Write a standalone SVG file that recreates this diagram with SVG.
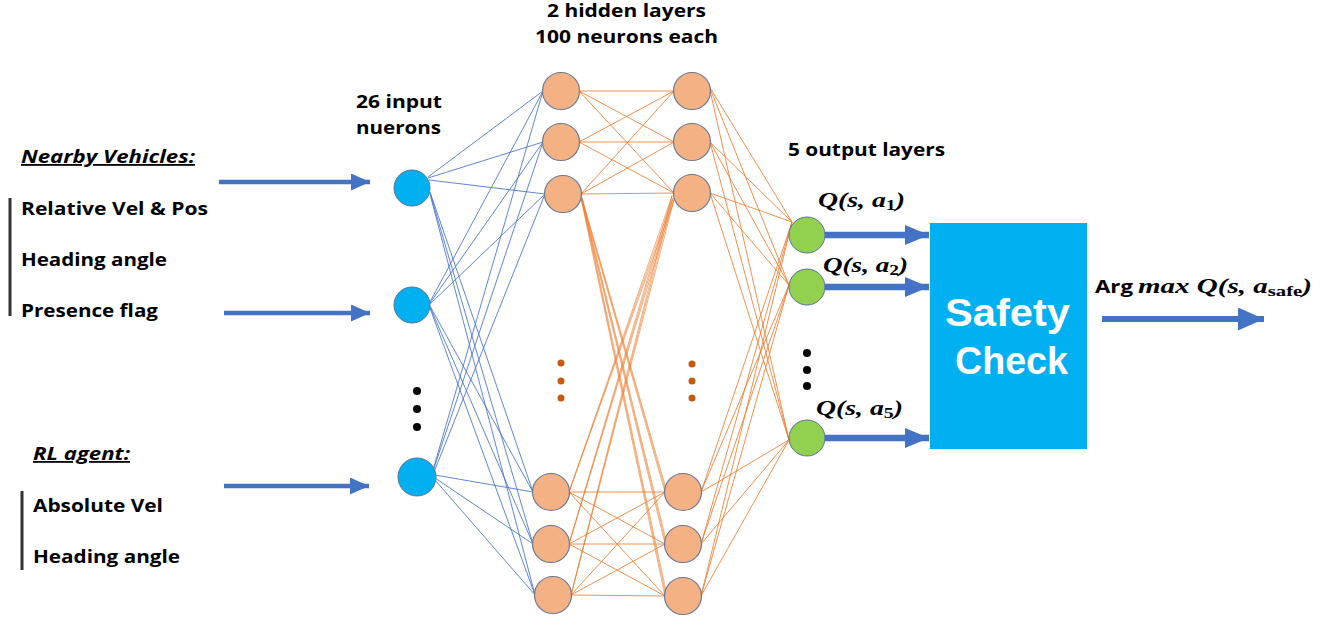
<svg xmlns="http://www.w3.org/2000/svg" width="1342" height="621" viewBox="0 0 1342 621">
<defs>
<style>
.t{font-family:"Open Sans","Liberation Sans",sans-serif;font-weight:700;font-size:18px;fill:#000}
.h{font-style:italic;text-decoration:underline}
.m{font-family:"Liberation Serif","DejaVu Serif",serif;font-weight:700;font-style:italic;font-size:21px;fill:#000}
.sub{font-style:normal;font-size:15px}
.in{fill:#00B0F0;stroke:#5B739B;stroke-width:1}
.hid{fill:#F4B183;stroke:#6A7894;stroke-width:1.2}
.out{fill:#92D050;stroke:#5B739B;stroke-width:1}
.cb{stroke:#4472C4;stroke-width:1;fill:none;opacity:0.85}
.co{stroke:#ED7D31;stroke-width:1;fill:none;opacity:0.85}
.cf{stroke:#ED7D31;stroke-width:1;fill:none;opacity:0.6}
.arr{stroke:#4472C4;fill:none}
.bar{stroke:#333;stroke-width:3}
.big{font-family:"Liberation Sans","Open Sans",sans-serif;font-weight:700;font-size:39px;fill:#fff}
</style>
<marker id="ah1" markerUnits="userSpaceOnUse" markerWidth="19" markerHeight="17" refX="19" refY="8.5" orient="auto"><path d="M0 0L19 8.5L0 17z" fill="#4472C4"/></marker>
<marker id="ah2" markerUnits="userSpaceOnUse" markerWidth="24" markerHeight="20" refX="24" refY="10" orient="auto"><path d="M0 0L24 10L0 20z" fill="#4472C4"/></marker>
<marker id="ah3" markerUnits="userSpaceOnUse" markerWidth="26" markerHeight="23" refX="26" refY="11.5" orient="auto"><path d="M0 0L26 11.5L0 23z" fill="#4472C4"/></marker>
</defs>
<rect width="1342" height="621" fill="#fff"/>

<g id="connectors">
<path class="cb" d="M428 177L543 91M428 178L543 142M429 180L545 194M430 192L533 492M430 193L533 544M430 194L535 595"/>
<path class="cb" d="M430 302L543 91M430 303L543 142M430 304L545 194M430 306L533 492M430 307L533 544M430 308L535 595"/>
<path class="cb" d="M433 470L543 91M433 471L543 142M434 472L545 194M435 475L533 492M435 478L533 544M435 480L535 595"/>
<path class="co" d="M579 91L674 91M579 91L674 142M579 91L674 193"/>
<path class="co" d="M579 142L674 91M579 142L674 142M579 142L674 193"/>
<path class="co" d="M581 194L674 91M581 194L674 142M581 194L674 193"/>
<path class="cf" d="M580 194L665 492M580 194L665 544M580 194L665 596M581 196L666 492M581 196L666 544M581 196L666 596M582 198L667 492M582 198L667 544M582 198L667 596"/>
<path class="co" d="M569 492L665 492M569 492L665 544M569 492L665 596"/>
<path class="co" d="M569 544L665 492M569 544L665 544M569 544L665 596"/>
<path class="co" d="M571 595L665 492M571 595L665 544M571 595L665 596"/>
<path class="cf" d="M569 492L672 196M569 492L673 198M569 492L674 200M569 544L672 196M569 544L673 198M569 544L674 200M571 595L672 196M571 595L673 198M571 595L674 200"/>
<path class="co" d="M709 86L792 222M709 86L789 285M709 86L789 440"/>
<path class="co" d="M710 142L792 222M710 142L789 285M710 142L789 440"/>
<path class="co" d="M710 193L792 222M710 193L789 285M710 193L789 440"/>
<path class="co" d="M701 492L792 222M701 492L789 285M701 492L789 440"/>
<path class="co" d="M701 544L792 222M701 544L789 285M701 544L789 440"/>
<path class="co" d="M701 596L792 222M701 596L789 285M701 596L789 440"/>
<line class="arr" x1="219" y1="182" x2="370" y2="182" stroke-width="4.5" marker-end="url(#ah1)"/>
<line class="arr" x1="224" y1="313" x2="370" y2="313" stroke-width="4.5" marker-end="url(#ah1)"/>
<line class="arr" x1="224" y1="486" x2="369" y2="486" stroke-width="4.5" marker-end="url(#ah1)"/>
<line class="arr" x1="824" y1="235" x2="929" y2="235" stroke-width="6.5" marker-end="url(#ah2)"/>
<line class="arr" x1="824" y1="287" x2="929" y2="287" stroke-width="6.5" marker-end="url(#ah2)"/>
<line class="arr" x1="824" y1="438" x2="929" y2="438" stroke-width="6.5" marker-end="url(#ah2)"/>
<line class="arr" x1="1102" y1="319" x2="1264" y2="319" stroke-width="6" marker-end="url(#ah3)"/>
</g>

<g id="input-labels">
<text class="t h" x="21" y="163" textLength="174" lengthAdjust="spacingAndGlyphs">Nearby Vehicles:</text>
<line class="bar" x1="10" y1="198" x2="10" y2="316"/>
<text class="t" x="21" y="215" textLength="187" lengthAdjust="spacingAndGlyphs">Relative Vel &amp; Pos</text>
<text class="t" x="21" y="266" textLength="146" lengthAdjust="spacingAndGlyphs">Heading angle</text>
<text class="t" x="21" y="317" textLength="137" lengthAdjust="spacingAndGlyphs">Presence flag</text>
<text class="t h" x="33" y="460" textLength="97" lengthAdjust="spacingAndGlyphs">RL agent:</text>
<line class="bar" x1="22" y1="491" x2="22" y2="570"/>
<text class="t" x="33" y="512" textLength="130" lengthAdjust="spacingAndGlyphs">Absolute Vel</text>
<text class="t" x="33" y="563" textLength="147" lengthAdjust="spacingAndGlyphs">Heading angle</text>
</g>

<g id="titles">
<text class="t" x="356" y="108" textLength="86" lengthAdjust="spacingAndGlyphs">26 input</text>
<text class="t" x="356" y="134" textLength="85" lengthAdjust="spacingAndGlyphs">nuerons</text>
<text class="t" x="547" y="17" textLength="159" lengthAdjust="spacingAndGlyphs">2 hidden layers</text>
<text class="t" x="535" y="43" textLength="183" lengthAdjust="spacingAndGlyphs">100 neurons each</text>
<text class="t" x="788" y="156" textLength="157" lengthAdjust="spacingAndGlyphs">5 output layers</text>
</g>

<g id="input-layer">
<circle id="in1" class="in" cx="412" cy="188" r="18"/>
<circle id="in2" class="in" cx="412" cy="305" r="18"/>
<circle id="in3" class="in" cx="417" cy="477" r="19"/>
<circle cx="417" cy="391" r="4" fill="#000"/>
<circle cx="417" cy="409" r="4" fill="#000"/>
<circle cx="417" cy="427" r="4" fill="#000"/>
</g>

<g id="hidden-layer-1">
<circle class="hid" cx="561" cy="91" r="18.5"/>
<circle class="hid" cx="561" cy="142" r="18.5"/>
<circle class="hid" cx="563" cy="194" r="18.5"/>
<circle class="hid" cx="551" cy="492" r="18.5"/>
<circle class="hid" cx="551" cy="544" r="18.5"/>
<circle class="hid" cx="553" cy="595" r="18.5"/>
<circle cx="561" cy="363" r="3.5" fill="#C55A11"/>
<circle cx="561" cy="381" r="3.5" fill="#C55A11"/>
<circle cx="561" cy="398" r="3.5" fill="#C55A11"/>
</g>

<g id="hidden-layer-2">
<circle class="hid" cx="692" cy="91" r="18.5"/>
<circle class="hid" cx="692" cy="142" r="18.5"/>
<circle class="hid" cx="692" cy="193" r="18.5"/>
<circle class="hid" cx="683" cy="492" r="18.5"/>
<circle class="hid" cx="683" cy="544" r="18.5"/>
<circle class="hid" cx="683" cy="596" r="18.5"/>
<circle cx="692" cy="364" r="3.5" fill="#C55A11"/>
<circle cx="692" cy="381" r="3.5" fill="#C55A11"/>
<circle cx="692" cy="398" r="3.5" fill="#C55A11"/>
</g>

<g id="output-layer">
<circle class="out" cx="807" cy="235" r="18"/>
<circle class="out" cx="807" cy="287" r="18"/>
<circle class="out" cx="807" cy="438" r="18"/>
<circle cx="807" cy="353" r="4" fill="#000"/>
<circle cx="807" cy="370" r="4" fill="#000"/>
<circle cx="807" cy="386" r="4" fill="#000"/>
<text class="m" x="818" y="207" textLength="87" lengthAdjust="spacingAndGlyphs">Q(s, a<tspan class="sub" dy="3">1</tspan><tspan dy="-3">)</tspan></text>
<text class="m" x="823" y="272" textLength="85" lengthAdjust="spacingAndGlyphs">Q(s, a<tspan class="sub" dy="3">2</tspan><tspan dy="-3">)</tspan></text>
<text class="m" x="816" y="415" textLength="87" lengthAdjust="spacingAndGlyphs">Q(s, a<tspan class="sub" dy="3">5</tspan><tspan dy="-3">)</tspan></text>
</g>

<g id="safety-check">
<rect x="930" y="223" width="157" height="226" fill="#00B0F0"/>
<text class="big" x="945" y="326" textLength="125" lengthAdjust="spacingAndGlyphs">Safety</text>
<text class="big" x="955" y="374" textLength="113" lengthAdjust="spacingAndGlyphs">Check</text>
</g>

<g id="result">
<text class="t" x="1095" y="293" textLength="38" lengthAdjust="spacingAndGlyphs">Arg</text>
<text class="m" x="1138" y="293" textLength="174" lengthAdjust="spacingAndGlyphs">max Q(s, a<tspan class="sub" dy="3">safe</tspan><tspan dy="-3">)</tspan></text>
</g>
</svg>
